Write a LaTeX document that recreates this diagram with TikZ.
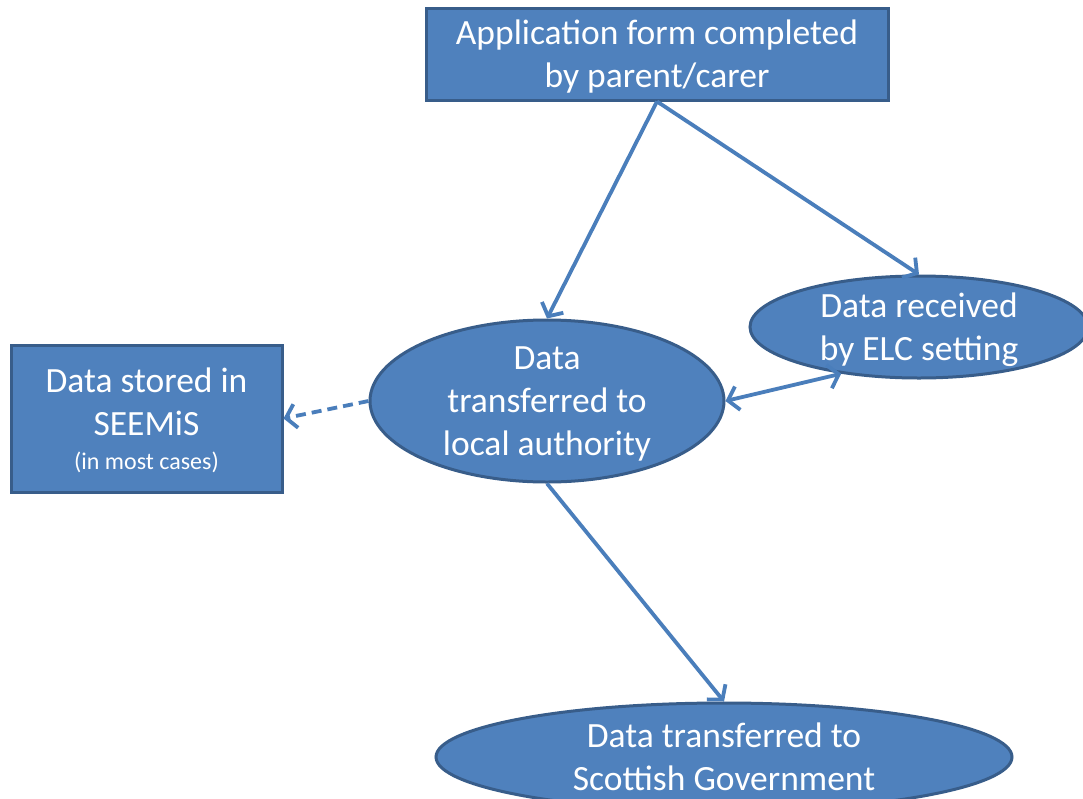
\documentclass[tikz,border=0pt]{standalone}
\usepackage{fontspec}
\setmainfont{Carlito}
\usetikzlibrary{shapes.geometric,arrows.meta}
\definecolor{boxfill}{HTML}{4F81BD}
\definecolor{boxline}{HTML}{385D8A}
\definecolor{linkcol}{HTML}{4A7EBB}
\tikzset{
  x=1pt, y=-1pt,
  base/.style={fill=boxfill, draw=boxline, line width=3pt, text=white,
    align=center, inner sep=0pt, text depth=0pt,
    font=\fontsize{35.5}{43}\selectfont},
  rectbox/.style={base, rectangle},
  ovalbox/.style={base, ellipse},
  link/.style={draw=linkcol, line width=3.8pt,
    -{Straight Barb[length=10pt,width=24pt]}},
  biglink/.style={draw=linkcol, line width=3.8pt,
    {Straight Barb[length=10pt,width=24pt]}-{Straight Barb[length=10pt,width=24pt]}},
}
\begin{document}
\begin{tikzpicture}
\useasboundingbox (0,0) rectangle (1083,798);
\fill[white] (0,0) rectangle (1083,798);

\node[rectbox, minimum width=462pt, minimum height=92pt, text depth=-4pt] (form) at (657,54)
  {Application form completed\\by parent/carer};
\node[rectbox, minimum width=271pt, minimum height=147pt, text depth=-5pt] (seemis) at (146.5,418.5)
  {Data stored in\\SEEMiS\\[-9pt]{\fontsize{24}{28}\selectfont (in most cases)}};
\node[ovalbox, minimum width=354pt, minimum height=162pt, text depth=-8pt] (la) at (547,401)
  {Data\\transferred to\\local authority};
\node[ovalbox, minimum width=338pt, minimum height=102pt, text depth=-2pt] (elc) at (919,327)
  {Data received\\by ELC setting};
\node[ovalbox, minimum width=576pt, minimum height=108pt] (sg) at (724,757)
  {Data transferred to\\Scottish Government};

\draw[link] (form.south) -- (la.north);
\draw[link] (form.south) -- (elc.north);
\draw[biglink] (la.east) -- (elc.211);
\draw[link, dash pattern=on 10pt off 6pt] (la.west) -- (seemis.east);
\draw[link] (la.south) -- (sg.north);
\end{tikzpicture}
\end{document}
